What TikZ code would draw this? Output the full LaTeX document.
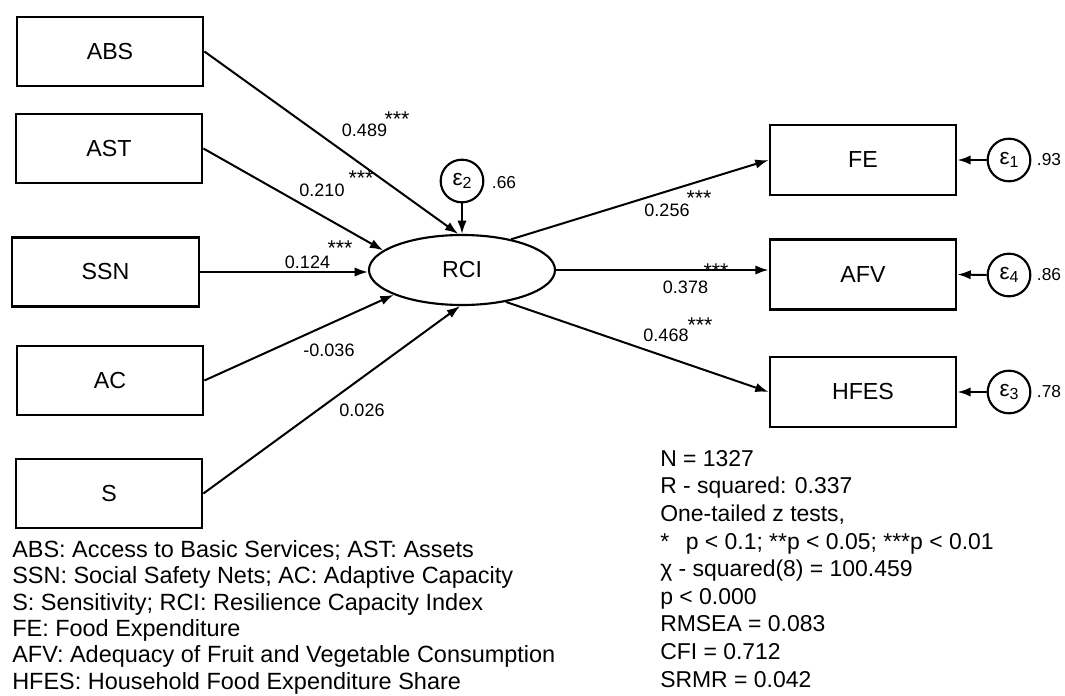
\documentclass[tikz,border=0pt]{standalone}
\usepackage{fontspec}
\setmainfont{Liberation Sans}
\usetikzlibrary{arrows.meta,shapes.geometric}
\newcommand{\epsub}[1]{ε\raisebox{-0.3ex}{\fontsize{12}{12}\selectfont #1}}
\tikzset{
  obsvar/.style={draw, line width=1.6pt, minimum width=140pt, minimum height=51.75pt, inner sep=0pt, font=\fontsize{17.4}{20}\selectfont},
  outvar/.style={obsvar, minimum height=52.5pt},
  latvar/.style={draw, ellipse, line width=1.6pt, minimum width=139.5pt, minimum height=52.5pt, inner sep=0pt, font=\fontsize{17.4}{20}\selectfont},
  errc/.style={draw, circle, line width=1.6pt, minimum size=32pt, inner sep=0pt, font=\fontsize{17}{18}\selectfont},
  coef/.style={inner sep=0pt, font=\fontsize{13.5}{15}\selectfont},
  stars/.style={inner sep=0pt, anchor=base, font=\fontsize{16}{16}\selectfont},
  varlab/.style={inner sep=0pt, font=\fontsize{13}{15}\selectfont},
  pathar/.style={line width=1.5pt, -{Latex[length=10pt,width=7pt]}},
  legend/.style={inner sep=0pt, align=left, anchor=north west}
}
\begin{document}
\begin{tikzpicture}[x=0.75pt,y=-0.75pt]
\useasboundingbox (0,0) rectangle (1065,696);
% exogenous variables
\node[obsvar] (ABS) at (110,51.5) {ABS};
\node[obsvar] (AST) at (109,148.5) {AST};
\node[obsvar] (SSN) at (105.5,272) {SSN};
\node[obsvar] (AC)  at (110,380.5) {AC};
\node[obsvar] (S)   at (109,493.5) {S};
% latent
\node[latvar] (RCI) at (462,270) {RCI};
\node[errc] (e2) at (462,181) {\epsub{2}};
\node[varlab] (l2) at (504,183) {.66};
% outcomes
\node[outvar] (FE)   at (863,160) {FE};
\node[outvar] (AFV)  at (863,274.5) {AFV};
\node[outvar] (HFES) at (863,392) {HFES};
\node[errc] (e1) at (1009,160) {\epsub{1}};
\node[errc] (e4) at (1009,275) {\epsub{4}};
\node[errc] (e3) at (1009,392) {\epsub{3}};
\node[varlab] (l1) at (1049,160) {.93};
\node[varlab] (l4) at (1049,275) {.86};
\node[varlab] (l3) at (1049,392) {.78};
% paths
\draw[pathar] (ABS.east) -- (RCI.96);
\draw[pathar] (AST.east) -- (RCI.166);
\draw[pathar] (SSN.east) -- (SSN.east -| RCI.west);
\draw[pathar] (AC.east) -- (RCI.200);
\draw[pathar] (S.east) -- (RCI.267);
\draw[pathar] (e2.south) -- (RCI.north);
\draw[pathar] (RCI.32) -- (FE.west);
\draw[pathar] (RCI.east) -- (RCI.east -| AFV.west);
\draw[pathar] (RCI.324) -- (HFES.west);
\draw[pathar] (e1.west) -- (FE.east);
\draw[pathar] (e4.west) -- (AFV.east);
\draw[pathar] (e3.west) -- (HFES.east);
% coefficients
\node[coef] (c1) at (364.5,130) {0.489};
\node[stars] (s1) at (397,126) {***};
\node[coef] (c2) at (322,190) {0.210};
\node[stars] (s2) at (361,185) {***};
\node[coef] (c3) at (307.5,262) {0.124};
\node[stars] (s3) at (340,255) {***};
\node[coef] (c4) at (329,350) {-0.036};
\node[coef] (c5) at (362,410) {0.026};
\node[coef] (c6) at (667,210) {0.256};
\node[stars] (s6) at (699,205) {***};
\node[coef] (c7) at (685.5,287) {0.378};
\node[stars] (s7) at (716,278) {***};
\node[coef] (c8) at (666,335) {0.468};
\node[stars] (s8) at (700,332) {***};
% legends
\node[legend, font=\fontsize{17.6}{19.8}\selectfont] (leg) at (12,540) {ABS: Access to Basic Services; AST: Assets\\
SSN: Social Safety Nets; AC: Adaptive Capacity\\
S: Sensitivity; RCI: Resilience Capacity Index\\
FE: Food Expenditure\\
AFV: Adequacy of Fruit and Vegetable Consumption\\
HFES: Household Food Expenditure Share};
\node[legend, font=\fontsize{17.2}{20.7}\selectfont] (stats) at (660,450) {N = 1327\\
R - squared: 0.337\\
One-tailed z tests,\\
*\ \ \,p < 0.1; **p < 0.05; ***p < 0.01\\
χ - squared(8) = 100.459\\
p < 0.000\\
RMSEA = 0.083\\
CFI = 0.712\\
SRMR = 0.042};
\end{tikzpicture}
\end{document}
